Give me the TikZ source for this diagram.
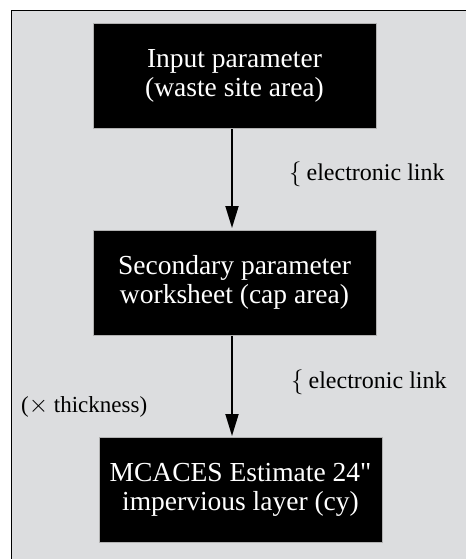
\documentclass[tikz,border=0pt]{standalone}
\usepackage{fontspec}
\setmainfont{Liberation Serif}
\usetikzlibrary{arrows.meta}
\definecolor{panel}{HTML}{DCDDDF}
\tikzset{
  x=1pt, y=-1pt,
  blackbox/.style={fill=black, draw=gray!60, line width=0.6pt, text=white,
    align=center, inner sep=0pt, font=\fontsize{27.5}{29}\selectfont},
  flow/.style={line width=1.8pt, -{Triangle[width=13pt,length=22pt]}},
  note/.style={anchor=west, inner sep=0pt, font=\fontsize{24}{28}\selectfont}
}
\newcommand{\linkbrace}{$\big\{$}
\begin{document}
\begin{tikzpicture}
\useasboundingbox (0,0) rectangle (466,559);
% framed panel
\fill[panel] (11,11) rectangle (466,559);
\draw[line width=1pt] (11,559) -- (11,11) -- (466,11);
% boxes
\node[blackbox, minimum width=283pt, minimum height=105pt] (in) at (234.5,75.5)
  {Input parameter\\(waste site area)};
\node[blackbox, minimum width=283pt, minimum height=105pt] (sec) at (234.5,282.5)
  {Secondary parameter\\worksheet (cap area)};
\node[blackbox, minimum width=283pt, minimum height=105pt] (mc) at (240.5,489.5)
  {MCACES Estimate 24\textquotedbl\\impervious layer (cy)};
% connectors
\draw[flow] (in.south -| 232,0) ++(0,1) coordinate (a1) -- (232,228) coordinate (a2);
\draw[flow] (sec.south -| 232,0) ++(0,1) coordinate (b1) -- (232,436) coordinate (b2);
% labels
\node[note] (l1) at (289,174) {\linkbrace\kern5pt electronic link};
\node[note] (l2) at (291,382) {\linkbrace\kern5pt electronic link};
\node[note, font=\fontsize{23}{26}\selectfont] (l3) at (21,407) {($\times$ thickness)};
\end{tikzpicture}
\end{document}
